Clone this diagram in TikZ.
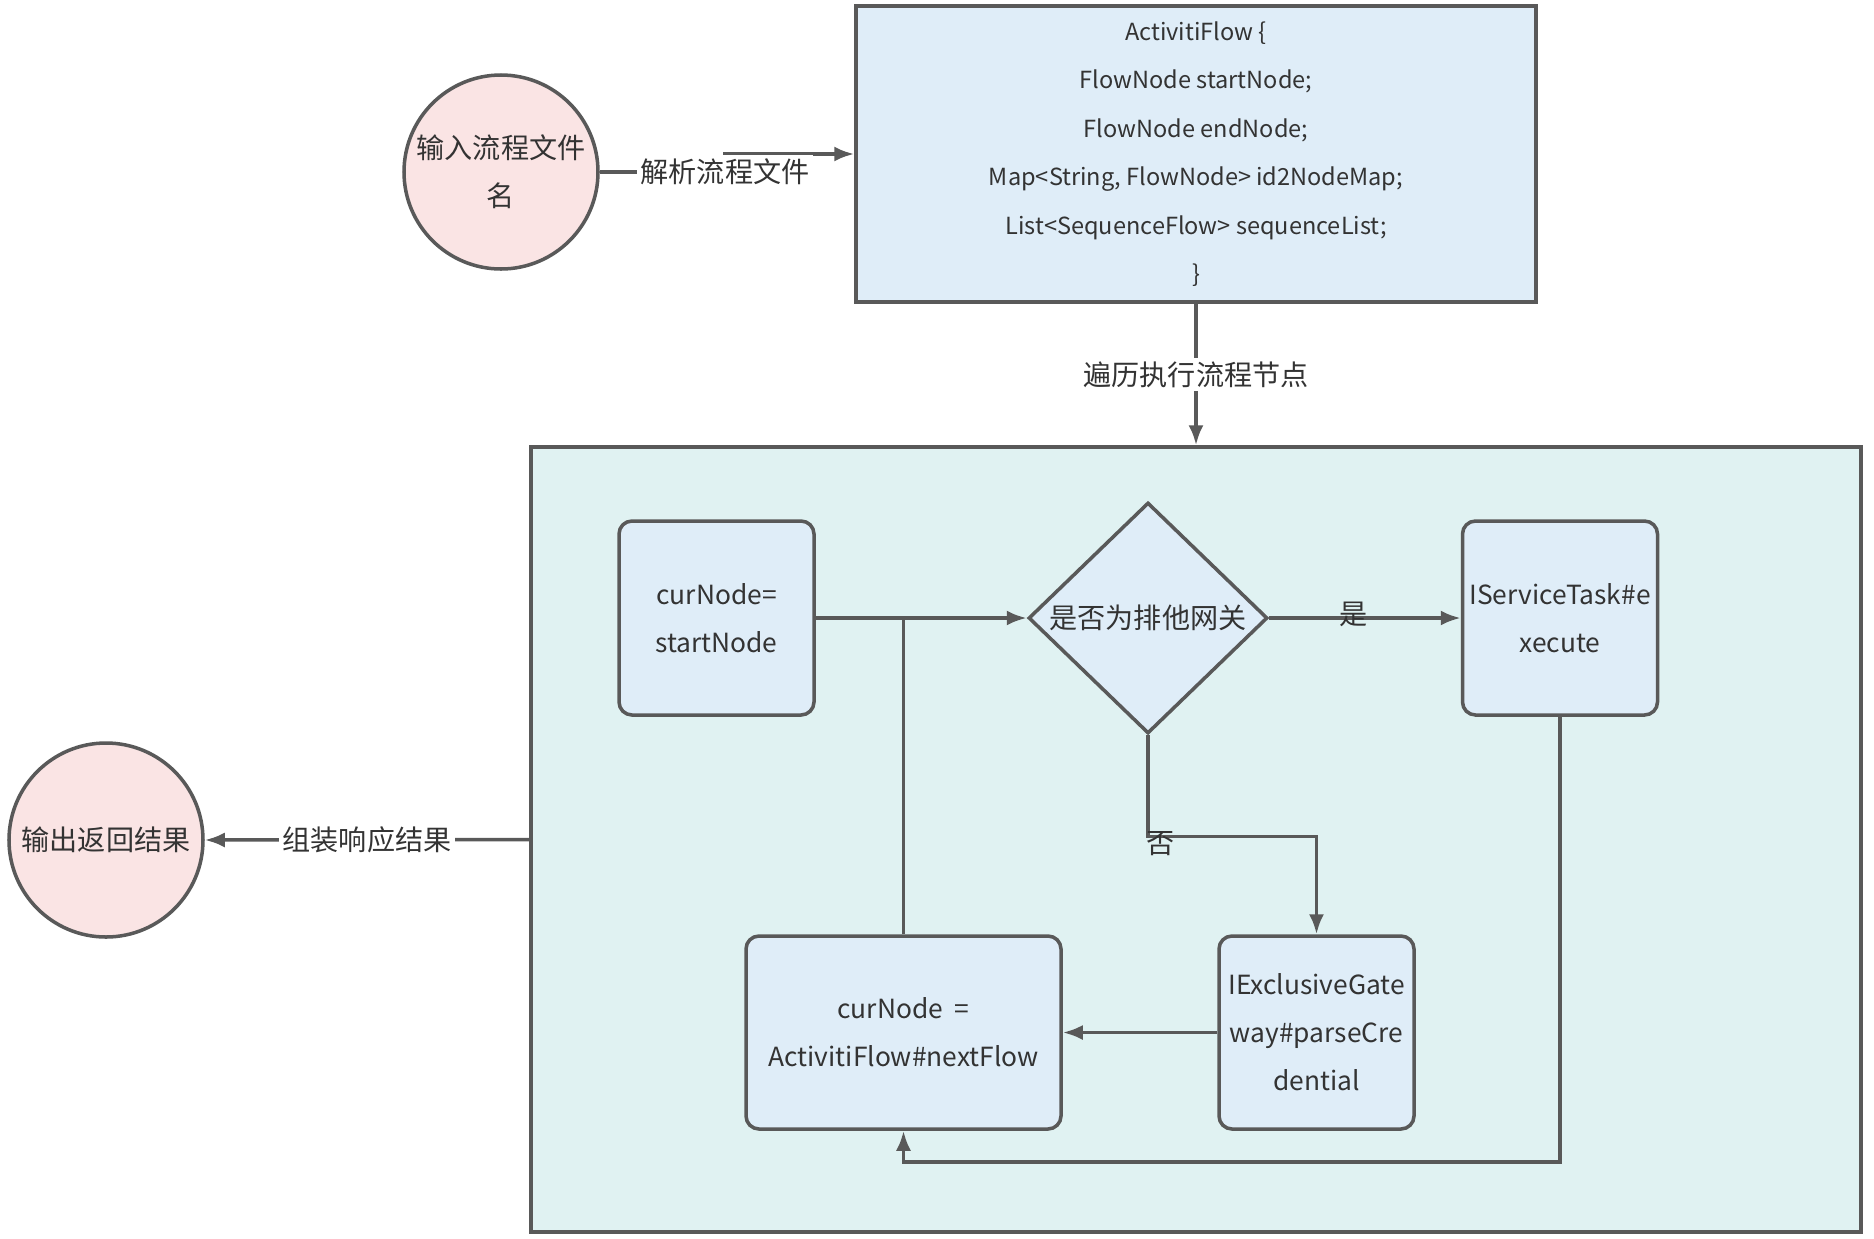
\documentclass[tikz,border=0pt]{standalone}
\usepackage{fontspec}
\setmainfont{Noto Sans CJK SC}
\usetikzlibrary{shapes.geometric,arrows.meta}
\definecolor{edgegray}{HTML}{595959}
\definecolor{txtgray}{HTML}{333333}
\definecolor{circpink}{HTML}{FAE4E4}
\definecolor{boxblue}{HTML}{DFEDF8}
\definecolor{areateal}{HTML}{E0F2F2}
\begin{document}
\begin{tikzpicture}[x=1cm,y=1cm,
  every node/.style={text=txtgray,font=\fontsize{8}{13.7}\selectfont},
  endpt/.style={circle,draw=edgegray,line width=1pt,fill=circpink,minimum size=1.94cm,inner sep=0pt,align=center},
  stepbox/.style={rectangle,rounded corners=0.13cm,draw=edgegray,line width=1pt,fill=boxblue,align=center,inner sep=0pt,
    font=\fontsize{7.5}{13.7}\selectfont},
  gate/.style={diamond,draw=edgegray,line width=1pt,fill=boxblue,inner sep=0pt,minimum width=2.39cm,minimum height=2.31cm},
  flow/.style={draw=edgegray,line width=1pt,-{Latex[length=2mm,width=1.5mm]}},
  wire/.style={draw=edgegray,line width=1pt},
  lbl/.style={fill=white,inner sep=1pt}]
\useasboundingbox[fill=white] (0,0) rectangle (18.74,-12.38);
% outer parts
\node[endpt] (in) at (5.01,-1.72) {输入流程文件\\名};
\node[rectangle,draw=edgegray,line width=1pt,fill=boxblue,minimum width=6.8cm,minimum height=2.96cm,align=center,
  font=\fontsize{6.7}{13.8}\selectfont] (cls) at (11.96,-1.54)
  {ActivitiFlow \{\\FlowNode startNode;\\FlowNode endNode;\\Map<String, FlowNode> id2NodeMap;\\List<SequenceFlow> sequenceList;\\\}};
\node[rectangle,draw=edgegray,line width=1pt,fill=areateal,minimum width=13.3cm,minimum height=7.85cm] (cont) at (11.96,-8.395) {};
\node[endpt] (out) at (1.06,-8.40) {输出返回结果};
% inner loop
\node[stepbox,minimum width=1.95cm,minimum height=1.94cm] (start) at (7.165,-6.18) {curNode=\\startNode};
\node[gate] (dia) at (11.48,-6.18) {\makebox[0pt]{是否为排他网关}};
\node[stepbox,minimum width=1.95cm,minimum height=1.94cm] (svc) at (15.60,-6.18) {IServiceTask\#e\\xecute};
\node[stepbox,minimum width=3.15cm,minimum height=1.93cm] (nxt) at (9.035,-10.325) {curNode\ \ =\\ActivitiFlow\#nextFlow};
\node[stepbox,minimum width=1.95cm,minimum height=1.93cm] (excl) at (13.165,-10.325) {IExclusiveGate\\way\#parseCre\\dential};
\coordinate (loop) at (9.035,-11.62);
% connectors
\draw[flow] (in.east) -- (7.25,-1.72) node[lbl] {解析流程文件} |- (cls.west);
\draw[flow] (cls.south) -- node[lbl] {遍历执行流程节点} (cont.north);
\draw[flow] (cont.west) -- node[lbl] {组装响应结果} (out.east);
\draw[flow] (start.east) -- (dia.west);
\draw[wire] (nxt.north) -- (nxt.north |- start.east);
\draw[flow] (dia.east) -- node[pos=0.44,yshift=1pt] {是} (svc.west);
\draw[flow] (dia.south) -- ++(0,-1.01) node[anchor=north west,inner sep=0pt,xshift=-1pt,yshift=2pt] {否} -| (excl.north);
\draw[flow] (excl.west) -- (nxt.east);
\draw[flow] (svc.south) |- (loop) -- (nxt.south);
\end{tikzpicture}
\end{document}
